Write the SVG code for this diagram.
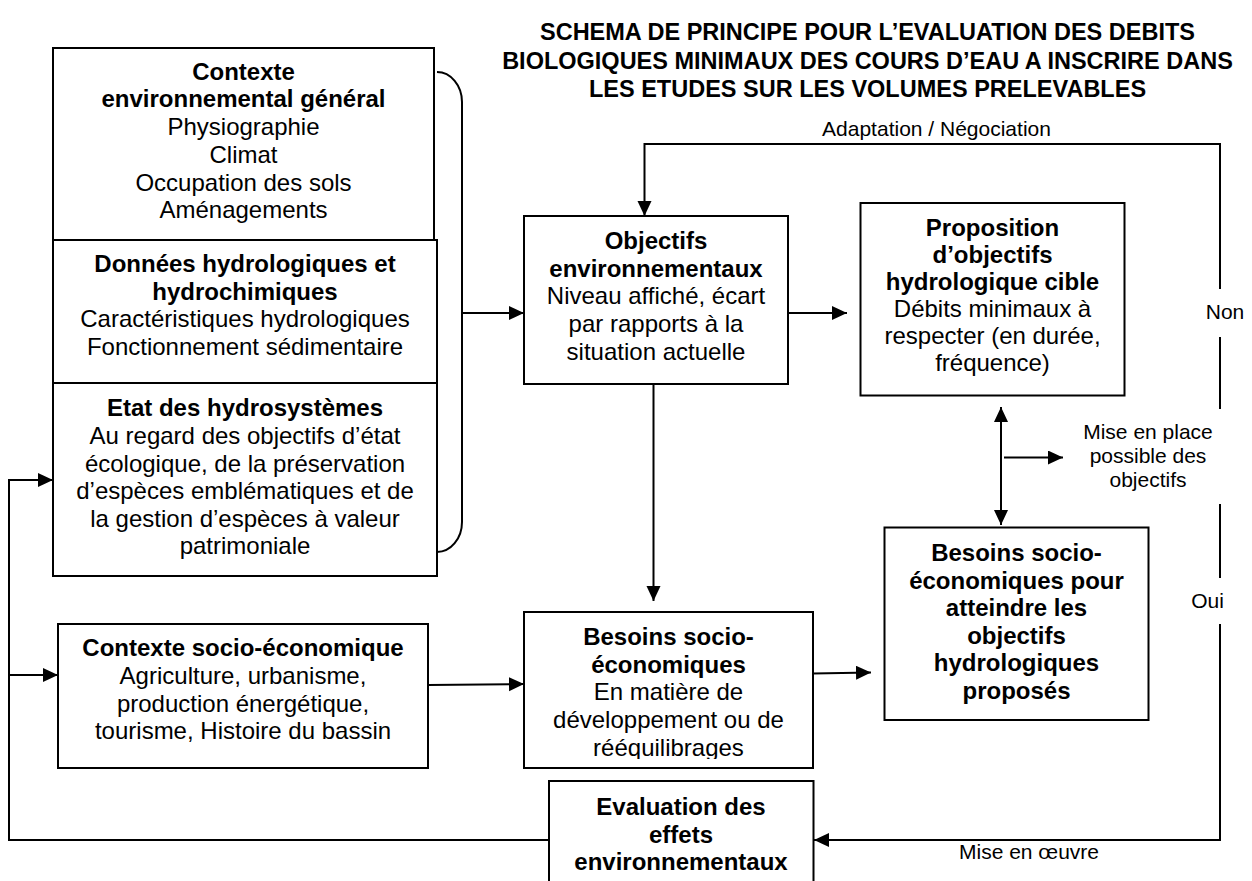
<svg xmlns="http://www.w3.org/2000/svg" width="1252" height="881" viewBox="0 0 1252 881">
<style>
text{font-family:"Liberation Sans",Arial,sans-serif;fill:#000}
.t{font-size:23.5px;font-weight:bold;text-anchor:middle}
.b{font-size:24px;font-weight:bold;text-anchor:middle}
.n{font-size:24px;text-anchor:middle}
.l{font-size:21px;text-anchor:middle}
.box{fill:#fff;stroke:#000;stroke-width:2}
.c{fill:none;stroke:#000;stroke-width:2}
</style>
<defs>
<marker id="ah" markerUnits="userSpaceOnUse" markerWidth="16" markerHeight="15" refX="15" refY="7" orient="auto">
<path d="M0,0 L15,7 L0,14 Z" fill="#000"/>
</marker>
<marker id="as" markerUnits="userSpaceOnUse" markerWidth="16" markerHeight="15" refX="0" refY="7" orient="auto">
<path d="M15,0 L0,7 L15,14 Z" fill="#000"/>
</marker>
<clipPath id="clipB"><rect x="524" y="612" width="290" height="147"/></clipPath>
</defs>
<rect width="1252" height="881" fill="#fff"/>

<g id="title">
<text class="t" x="867.5" y="40">SCHEMA DE PRINCIPE POUR L’EVALUATION DES DEBITS</text>
<text class="t" x="867.5" y="68.5">BIOLOGIQUES MINIMAUX DES COURS D’EAU A INSCRIRE DANS</text>
<text class="t" x="867.5" y="96.5">LES ETUDES SUR LES VOLUMES PRELEVABLES</text>
</g>

<g id="connectors">
<path class="c" d="M437,72 A25,30 0 0 1 462,102 L462,522 A25,30 0 0 1 437,552"/>
<line class="c" x1="462" y1="313" x2="524" y2="313" marker-end="url(#ah)"/>
<line class="c" x1="788" y1="313" x2="847" y2="313" marker-end="url(#ah)"/>
<line class="c" x1="653.5" y1="384" x2="653.5" y2="601" marker-end="url(#ah)"/>
<line class="c" x1="428" y1="685" x2="524" y2="684" marker-end="url(#ah)"/>
<line class="c" x1="813" y1="673.5" x2="871" y2="672.5" marker-end="url(#ah)"/>
<line class="c" x1="1001" y1="407" x2="1001" y2="525" marker-start="url(#as)" marker-end="url(#ah)"/>
<line class="c" x1="1004" y1="457.5" x2="1063" y2="457.5" marker-end="url(#ah)"/>
<path class="c" d="M1220,289 L1220,144 L644.5,144 L644.5,216" marker-end="url(#ah)"/>
<line class="c" x1="1220" y1="337" x2="1220" y2="409"/>
<line class="c" x1="1220" y1="504" x2="1220" y2="578"/>
<path class="c" d="M1220,624 L1220,840 L814,840" marker-end="url(#ah)"/>
<path class="c" d="M549,840 L9,840 L9,480 L53,480" marker-end="url(#ah)"/>
<line class="c" x1="9" y1="675" x2="58" y2="675" marker-end="url(#ah)"/>
<text class="l" x="936.5" y="136">Adaptation / Négociation</text>
<text class="l" x="1225" y="318.5">Non</text>
<text class="l" x="1148" y="439">Mise en place</text>
<text class="l" x="1148" y="462.5">possible des</text>
<text class="l" x="1148" y="486.5">objectifs</text>
<text class="l" x="1207.5" y="607.5">Oui</text>
<text class="l" x="1029" y="859">Mise en œuvre</text>
</g>

<g id="contexte-env">
<rect class="box" x="53" y="48" width="381" height="192"/>
<text class="b" x="243.5" y="79.6">Contexte</text>
<text class="b" x="243.5" y="107.3">environnemental général</text>
<text class="n" x="243.5" y="135">Physiographie</text>
<text class="n" x="243.5" y="162.8">Climat</text>
<text class="n" x="243.5" y="190.5">Occupation des sols</text>
<text class="n" x="243.5" y="218.3">Aménagements</text>
</g>

<g id="donnees">
<rect class="box" x="53" y="240" width="384" height="143"/>
<text class="b" x="245" y="272">Données hydrologiques et</text>
<text class="b" x="245" y="299.7">hydrochimiques</text>
<text class="n" x="245" y="327.4">Caractéristiques hydrologiques</text>
<text class="n" x="245" y="355">Fonctionnement sédimentaire</text>
</g>

<g id="etat">
<rect class="box" x="53" y="383" width="384" height="193"/>
<text class="b" x="245" y="416">Etat des hydrosystèmes</text>
<text class="n" x="245" y="444">Au regard des objectifs d’état</text>
<text class="n" x="245" y="471.6">écologique, de la préservation</text>
<text class="n" x="245" y="499.2">d’espèces emblématiques et de</text>
<text class="n" x="245" y="526.8">la gestion d’espèces à valeur</text>
<text class="n" x="245" y="554.4">patrimoniale</text>
</g>

<g id="contexte-socio">
<rect class="box" x="58" y="624" width="370" height="144"/>
<text class="b" x="243" y="656">Contexte socio-économique</text>
<text class="n" x="243" y="684">Agriculture, urbanisme,</text>
<text class="n" x="243" y="711.5">production énergétique,</text>
<text class="n" x="243" y="739">tourisme, Histoire du bassin</text>
</g>

<g id="objectifs">
<rect class="box" x="524" y="216" width="264" height="168"/>
<text class="b" x="656" y="249">Objectifs</text>
<text class="b" x="656" y="276.7">environnementaux</text>
<text class="n" x="656" y="304.3">Niveau affiché, écart</text>
<text class="n" x="656" y="332">par rapports à la</text>
<text class="n" x="656" y="359.6">situation actuelle</text>
</g>

<g id="proposition">
<rect class="box" x="860.5" y="203" width="264" height="192.5"/>
<text class="b" x="992.5" y="236">Proposition</text>
<text class="b" x="992.5" y="263">d’objectifs</text>
<text class="b" x="992.5" y="290">hydrologique cible</text>
<text class="n" x="992.5" y="317">Débits minimaux à</text>
<text class="n" x="992.5" y="344">respecter (en durée,</text>
<text class="n" x="992.5" y="371">fréquence)</text>
</g>

<g id="besoins">
<rect class="box" x="524" y="612" width="289" height="156"/>
<g clip-path="url(#clipB)">
<text class="b" x="668.5" y="645">Besoins socio-</text>
<text class="b" x="668.5" y="672.7">économiques</text>
<text class="n" x="668.5" y="700.3">En matière de</text>
<text class="n" x="668.5" y="728">développement ou de</text>
<text class="n" x="668.5" y="755.6">rééquilibrages</text>
</g>
</g>

<g id="besoins-objectifs">
<rect class="box" x="884.5" y="527.5" width="264" height="192.5"/>
<text class="b" x="1016.5" y="561">Besoins socio-</text>
<text class="b" x="1016.5" y="588.5">économiques pour</text>
<text class="b" x="1016.5" y="616">atteindre les</text>
<text class="b" x="1016.5" y="643.5">objectifs</text>
<text class="b" x="1016.5" y="671">hydrologiques</text>
<text class="b" x="1016.5" y="698.5">proposés</text>
</g>

<g id="evaluation">
<rect class="box" x="549" y="781" width="264.5" height="130"/>
<text class="b" x="681" y="815">Evaluation des</text>
<text class="b" x="681" y="842.6">effets</text>
<text class="b" x="681" y="870">environnementaux</text>
</g>
</svg>
